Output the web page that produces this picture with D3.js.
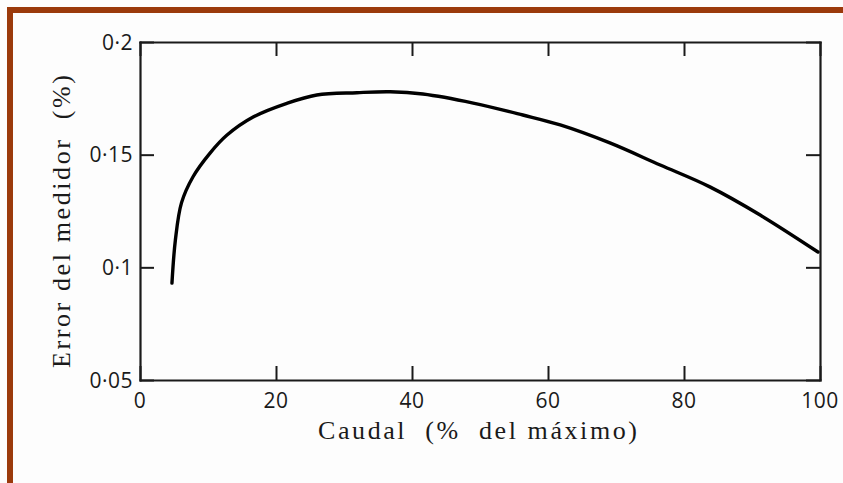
<!DOCTYPE html>
<html>
<head>
<meta charset="utf-8">
<script src="https://cdn.jsdelivr.net/npm/d3@7"></script>
<style>
  html, body { margin: 0; padding: 0; background: #fdfdfd; }
  svg { display: block; }
</style>
</head>
<body>
<div id="chart"></div>
<script>
const canvas_w  =   843;
const canvas_h  =   483;

// curve: caudal (% del maximo) vs error del medidor (%)
const caudal    =   [ 4.7, 5.2, 6.1, 7.8, 10.3, 12.8, 16.7, 21.6, 26.0, 31.9, 36.8, 41.6, 49.0, 56.3, 61.8, 69.1, 76.5, 83.8, 91.2, 99.7 ];
const error_med =   [ 0.093, 0.112, 0.1286, 0.1402, 0.1507, 0.1587, 0.1668, 0.1728, 0.1765, 0.1775, 0.1779, 0.1769, 0.1729, 0.1676, 0.1632, 0.1552, 0.1454, 0.1357, 0.1232, 0.1068 ];

const x_ticks   =   [ 0, 20, 40, 60, 80, 100 ];
const y_ticks   =   [ 0.05, 0.1, 0.15, 0.2 ];
const y_labels  =   [ '0·05', '0·1', '0·15', '0·2' ];

const plot      =   { left: 140, right: 820, top: 42, bottom: 380 };

let svg         =   d3.select( '#chart' )
                      .append( 'svg' )
                      .attr( 'width', canvas_w )
                      .attr( 'height', canvas_h );

// brown frame
svg.append( 'rect' )
   .attr( 'x', 10 ).attr( 'y', 10 )
   .attr( 'width', 900 ).attr( 'height', 600 )
   .attr( 'fill', '#fdfdfd' )
   .attr( 'stroke', '#9b3a0c' )
   .attr( 'stroke-width', 6 );

let x           =   d3.scaleLinear()
                      .domain( [ 0, 100 ] )
                      .range( [ plot.left, plot.right ] );

let y           =   d3.scaleLinear()
                      .domain( [ 0.05, 0.2 ] )
                      .range( [ plot.bottom, plot.top ] );

const tick_len  =   14;
const ink       =   '#1a1a1a';

// axes with inward ticks on all four sides
let ax_bottom = svg.append( 'g' )
   .attr( 'transform', `translate(0,${plot.bottom})` )
   .call( d3.axisTop( x ).tickValues( x_ticks ).tickSize( tick_len ).tickSizeOuter( 0 ).tickFormat( '' ) );
let ax_top = svg.append( 'g' )
   .attr( 'transform', `translate(0,${plot.top})` )
   .call( d3.axisBottom( x ).tickValues( x_ticks ).tickSize( tick_len ).tickSizeOuter( 0 ).tickFormat( '' ) );
let ax_left = svg.append( 'g' )
   .attr( 'transform', `translate(${plot.left},0)` )
   .call( d3.axisRight( y ).tickValues( y_ticks ).tickSize( tick_len ).tickSizeOuter( 0 ).tickFormat( '' ) );
let ax_right = svg.append( 'g' )
   .attr( 'transform', `translate(${plot.right},0)` )
   .call( d3.axisLeft( y ).tickValues( y_ticks ).tickSize( tick_len ).tickSizeOuter( 0 ).tickFormat( '' ) );

[ ax_bottom, ax_top, ax_left, ax_right ].forEach( function ( g ) {
    g.selectAll( 'path, line' )
     .attr( 'stroke', ink )
     .attr( 'stroke-width', 2 );
    g.select( '.domain' ).attr( 'stroke-width', 2.2 ).attr( 'stroke-linecap', 'square' );
});

// tick labels
svg.append( 'g' )
   .selectAll( 'text' )
   .data( x_ticks )
   .enter()
   .append( 'text' )
   .attr( 'x', d => x( d ) )
   .attr( 'y', 408 )
   .attr( 'text-anchor', 'middle' )
   .attr( 'font-family', '"Open Sans", sans-serif' )
   .attr( 'font-size', 21 )
   .attr( 'letter-spacing', 0.5 )
   .attr( 'fill', ink )
   .text( d => d );

svg.append( 'g' )
   .selectAll( 'text' )
   .data( y_ticks )
   .enter()
   .append( 'text' )
   .attr( 'x', 133 )
   .attr( 'y', d => y( d ) )
   .attr( 'dy', '0.36em' )
   .attr( 'text-anchor', 'end' )
   .attr( 'font-family', '"Open Sans", sans-serif' )
   .attr( 'font-size', 21 )
   .attr( 'letter-spacing', 0.5 )
   .attr( 'fill', ink )
   .text( ( d, i ) => y_labels[ i ] );

// axis titles
svg.append( 'text' )
   .attr( 'x', 318 )
   .attr( 'y', 439 )
   .attr( 'textLength', 319 )
   .attr( 'lengthAdjust', 'spacing' )
   .attr( 'font-family', '"Liberation Serif", serif' )
   .attr( 'font-size', 26 )
   .attr( 'fill', ink )
   .attr( 'xml:space', 'preserve' )
   .text( 'Caudal  (%  del máximo)' );

svg.append( 'text' )
   .attr( 'transform', 'translate(70,368) rotate(-90)' )
   .attr( 'textLength', 293 )
   .attr( 'lengthAdjust', 'spacing' )
   .attr( 'font-family', '"Liberation Serif", serif' )
   .attr( 'font-size', 26 )
   .attr( 'fill', ink )
   .attr( 'xml:space', 'preserve' )
   .text( 'Error del medidor  (%)' );

// curve
let line        =   d3.line()
                      .x( ( d, i ) => x( caudal[ i ] ) )
                      .y( d => y( d ) )
                      .curve( d3.curveCatmullRom );

svg.append( 'path' )
   .datum( error_med )
   .attr( 'd', line )
   .attr( 'fill', 'none' )
   .attr( 'stroke', '#000' )
   .attr( 'stroke-width', 3.4 )
   .attr( 'stroke-linecap', 'round' );
</script>
</body>
</html>
